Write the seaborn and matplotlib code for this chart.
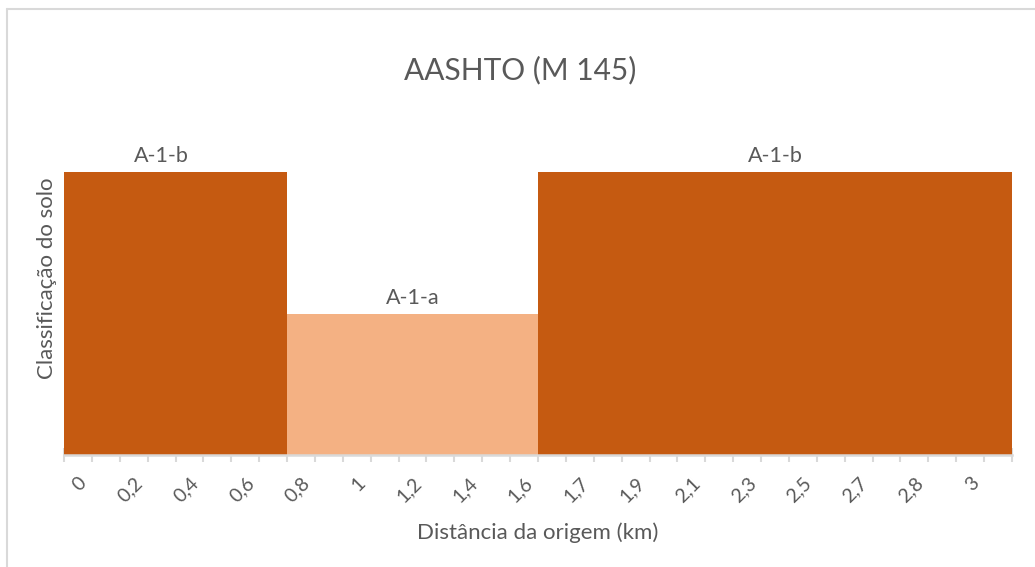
import matplotlib
matplotlib.use('Agg')
import numpy as np
import pandas as pd
import matplotlib.pyplot as plt
import seaborn as sns
from matplotlib.lines import Line2D

# Dados: distância da origem (km) e classificação AASHTO
distancias = ['0', '0,1', '0,2', '0,3', '0,4', '0,5', '0,6', '0,7', '0,8', '0,9',
              '1', '1,1', '1,2', '1,3', '1,4', '1,5', '1,6', '1,65', '1,7', '1,8',
              '1,9', '2', '2,1', '2,2', '2,3', '2,4', '2,5', '2,6', '2,7', '2,75',
              '2,8', '2,9', '3', '3,1']
classe = ['A-1-b'] * 8 + ['A-1-a'] * 9 + ['A-1-b'] * 17
nivel = [2] * 8 + [1] * 9 + [2] * 17

cores = {'A-1-b': '#C55A11', 'A-1-a': '#F4B183'}
cinza_texto = '#595959'
cinza_linha = '#D9D9D9'

df = pd.DataFrame({'dist': distancias, 'nivel': nivel, 'classe': classe})

sns.set_style('white')
plt.rcParams['font.family'] = ['Lato', 'DejaVu Sans']

fig = plt.figure(figsize=(10.35, 5.67), dpi=100)
ax = fig.add_axes([64 / 1035, 1 - 455 / 567, 948 / 1035, 305 / 567])

sns.barplot(data=df, x='dist', y='nivel', hue='classe', palette=cores, width=1,
            dodge=False, legend=False, saturation=1, linewidth=0, ax=ax)

ax.set_xlim(-0.5, len(distancias) - 0.5)
ax.set_ylim(0, 2 * 305 / 283)

# rótulos de dados no ponto central de cada trecho
inicio = 0
for i in range(1, len(classe) + 1):
    if i == len(classe) or classe[i] != classe[inicio]:
        meio = (inicio + i - 1) // 2
        ax.annotate(classe[inicio], (meio, nivel[meio]), xytext=(0, 4),
                    textcoords='offset points', ha='center', va='bottom',
                    fontsize=15.5, color=cinza_texto)
        inicio = i

ax.set_xticks(range(0, len(distancias), 2))
ax.set_xticklabels(distancias[::2], rotation=45, ha='right', rotation_mode='anchor',
                   fontsize=14, color=cinza_texto)
ax.set_xticks(np.arange(-0.5, len(distancias), 1), minor=True)
ax.tick_params(axis='x', which='major', bottom=True, length=0, pad=14)
ax.tick_params(axis='x', which='minor', bottom=True, length=10, width=1.5,
               direction='inout', color=cinza_linha)
ax.set_yticks([])

for lado in ['top', 'right', 'left']:
    ax.spines[lado].set_visible(False)
ax.spines['bottom'].set_color(cinza_linha)
ax.spines['bottom'].set_linewidth(1.8)

ax.set_xlabel('Distância da origem (km)', fontsize=16, color=cinza_texto)
ax.xaxis.set_label_coords(0.5, -(522 - 455) / 305)
ax.set_ylabel('Classificação do solo', fontsize=16, color=cinza_texto)
ax.yaxis.set_label_coords(-(64 - 57) / 948, (455 - 278) / 305)

fig.text(520 / 1035, 1 - 70 / 567, 'AASHTO (M 145)', ha='center', va='center',
         fontsize=21.5, color=cinza_texto)

# borda da área do gráfico
fig.add_artist(Line2D([7 / 1035, 7 / 1035], [0, 1 - 9 / 567], color=cinza_linha, lw=1.5))
fig.add_artist(Line2D([7 / 1035, 1], [1 - 9 / 567, 1 - 9 / 567], color=cinza_linha, lw=1.5))

fig.savefig('out.png', dpi=100)
